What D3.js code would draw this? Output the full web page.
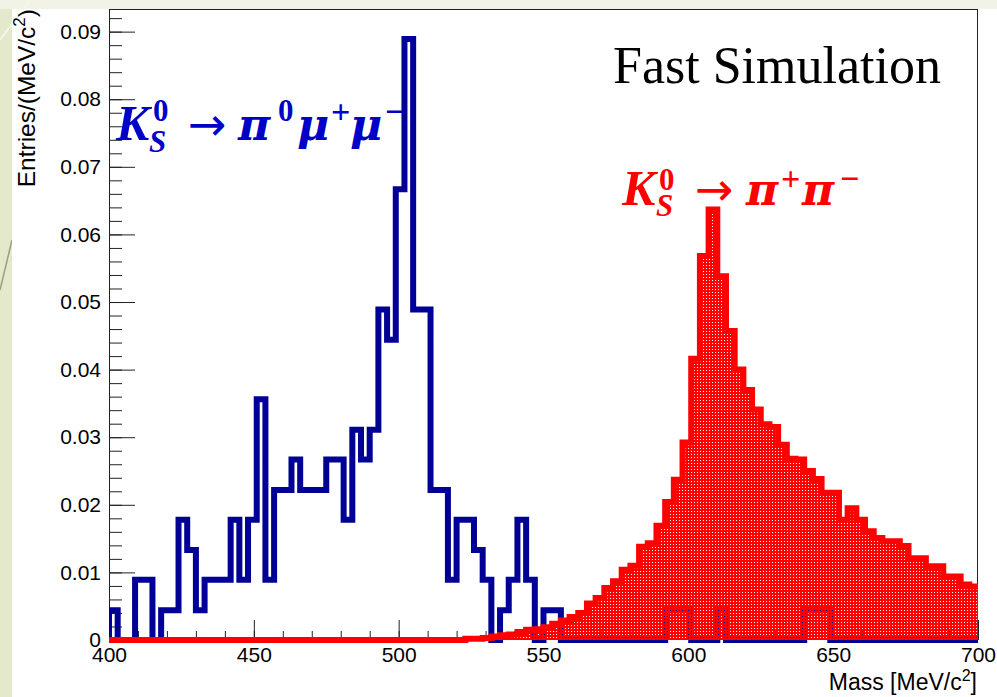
<!DOCTYPE html>
<html>
<head>
<meta charset="utf-8">
<script src="https://cdn.jsdelivr.net/npm/d3@7"></script>
<style>
  body { margin: 0; background: #e8edd3; }
  svg { display: block; }
</style>
</head>
<body>
<svg id="chart"></svg>
<script>
// Histogram contents, 3 MeV bins from 400 to 700 MeV/c^2
const binStart = 400;
const binWidth = 3;

// K0S -> pi0 mu+ mu-  (blue, outline only)
const blueValues = [
  0.0044, 0, 0, 0.0089, 0.0089, 0, 0.0044, 0.0044, 0.0178, 0.0133,
  0.0044, 0.0089, 0.0089, 0.0089, 0.0178, 0.0089, 0.0178, 0.0356, 0.0089, 0.0222,
  0.0222, 0.0267, 0.0222, 0.0222, 0.0222, 0.0267, 0.0267, 0.0178, 0.0311, 0.0267,
  0.0311, 0.0489, 0.0444, 0.0667, 0.0889, 0.0489, 0.0489, 0.0222, 0.0222, 0.0089,
  0.0178, 0.0178, 0.0133, 0.0089, 0, 0.0044, 0.0089, 0.0178, 0.0089, 0,
  0.0044, 0.0044, 0, 0, 0, 0, 0, 0, 0, 0,
  0, 0, 0, 0, 0.0044, 0.0044, 0.0044, 0, 0, 0,
  0.0044, 0, 0, 0, 0, 0, 0, 0, 0, 0,
  0.0044, 0.0044, 0.0044, 0, 0, 0, 0, 0, 0, 0,
  0, 0, 0, 0, 0, 0, 0, 0, 0, 0
];

// K0S -> pi+ pi-  (red, filled)
const redValues = [
  0, 0, 0, 0, 0, 0, 0, 0, 0, 0,
  0, 0, 0, 0, 0, 0, 0, 0, 0, 0,
  0, 0, 0, 0, 0, 0, 0, 0, 0, 0,
  0, 0, 0, 0, 0, 0, 0, 0, 0, 0,
  0, 0.0002, 0.0002, 0.0003, 0.0005, 0.0007, 0.0008, 0.0012, 0.0015, 0.0016,
  0.0019, 0.0024, 0.0029, 0.0034, 0.0040, 0.0054, 0.0062, 0.0077, 0.0087, 0.0104,
  0.0110, 0.0138, 0.0143, 0.0169, 0.0204, 0.0237, 0.0292, 0.0416, 0.0568, 0.0637,
  0.0538, 0.0457, 0.0400, 0.0370, 0.0341, 0.0319, 0.0315, 0.0289, 0.0268, 0.0267,
  0.0250, 0.0238, 0.0218, 0.0218, 0.0178, 0.0195, 0.0178, 0.0161, 0.0151, 0.0146,
  0.0146, 0.0139, 0.0121, 0.0121, 0.0109, 0.0109, 0.0094, 0.0094, 0.0082, 0.0079
];

const xMajorTicks = [400, 450, 500, 550, 600, 650, 700];
const yMajorTicks = [0, 0.01, 0.02, 0.03, 0.04, 0.05, 0.06, 0.07, 0.08, 0.09];
const yTickLabels = ["0", "0.01", "0.02", "0.03", "0.04", "0.05", "0.06", "0.07", "0.08", "0.09"];

const width = 997, height = 697;
const plot = { left: 109, right: 978, top: 10, bottom: 640 };

const svg = d3.select("#chart")
  .attr("width", width)
  .attr("height", height);

// page background + white slide image
svg.append("rect").attr("width", width).attr("height", height).attr("fill", "#e4e9cc");
svg.append("rect").attr("width", width).attr("height", 9).attr("fill", "#f2f3e6");
svg.append("line").attr("x1", 0).attr("y1", 40).attr("x2", 30).attr("y2", 0)
  .attr("stroke", "#f4f6ea").attr("stroke-width", 2);
svg.append("line").attr("x1", 0).attr("y1", 290).attr("x2", 12).attr("y2", 240)
  .attr("stroke", "#9a9f80").attr("stroke-width", 1.5);
svg.append("rect").attr("x", 12).attr("y", 9).attr("width", width - 12).attr("height", height - 9)
  .attr("fill", "#ffffff");

const x = d3.scaleLinear().domain([400, 700]).range([plot.left, plot.right]);
const y = d3.scaleLinear().domain([0, 0.0932]).range([plot.bottom, plot.top]);

const defs = svg.append("defs");
defs.append("clipPath").attr("id", "plotClip")
  .append("rect")
  .attr("x", plot.left).attr("y", plot.top)
  .attr("width", plot.right - plot.left).attr("height", plot.bottom - plot.top + 6);

// dotted red fill (ROOT-like pattern with small holes)
defs.append("pattern")
  .attr("id", "redDots")
  .attr("patternUnits", "userSpaceOnUse")
  .attr("width", 3).attr("height", 3)
  .append("path")
  .attr("d", "M0,0H3V3H0Z M1,1H2V2H1Z")
  .attr("fill", "#ff0000")
  .attr("fill-rule", "evenodd");

function stepPoints(values) {
  const pts = [[binStart, 0]];
  values.forEach((v, i) => {
    const x0 = binStart + i * binWidth;
    pts.push([x0, v], [x0 + binWidth, v]);
  });
  return pts;
}
const line = d3.line().x(d => x(d[0])).y(d => y(d[1]));

// axes (ticks inside the frame)
const tickFont = g => g.attr("font-family", "'Liberation Sans', Arial, sans-serif")
  .attr("font-size", 21);

const xMinor = svg.append("g")
  .attr("transform", `translate(0,${plot.bottom})`)
  .call(d3.axisBottom(x).tickValues(d3.range(400, 701, 10)).tickSize(-9).tickFormat(""));
const xMajor = svg.append("g")
  .attr("transform", `translate(0,${plot.bottom})`)
  .call(d3.axisBottom(x).tickValues(xMajorTicks).tickSize(-20).tickPadding(7).tickFormat(d3.format("d")))
  .call(tickFont);

const yMinor = svg.append("g")
  .attr("transform", `translate(${plot.left},0)`)
  .call(d3.axisLeft(y).tickValues(d3.range(0, 0.0925, 0.002)).tickSize(-13).tickFormat(""));
const yMajor = svg.append("g")
  .attr("transform", `translate(${plot.left},0)`)
  .call(d3.axisLeft(y).tickValues(yMajorTicks).tickSize(-26).tickPadding(8)
    .tickFormat((d, i) => yTickLabels[i]))
  .call(tickFont);

[xMinor, xMajor, yMinor, yMajor].forEach(g => {
  g.select(".domain").remove();
  g.selectAll(".tick line").attr("stroke", "#222").attr("stroke-width", 1);
  g.selectAll(".tick text").attr("fill", "#000");
});

// frame
svg.append("rect")
  .attr("x", plot.left + 0.5).attr("y", plot.top - 0.5)
  .attr("width", plot.right - plot.left - 1).attr("height", plot.bottom - plot.top)
  .attr("fill", "none").attr("stroke", "#222").attr("stroke-width", 1);

const hist = svg.append("g").attr("clip-path", "url(#plotClip)");

// blue histogram
const bluePts = stepPoints(blueValues).concat([[700, 0]]);
hist.append("path")
  .attr("d", line(bluePts))
  .attr("fill", "none")
  .attr("stroke", "#000096")
  .attr("stroke-width", 6)
  .attr("stroke-linejoin", "miter");

// red histogram: fill then outline
const redPts = stepPoints(redValues);
hist.append("path")
  .attr("d", line(redPts.concat([[700, 0]])) + "Z")
  .attr("fill", "url(#redDots)")
  .attr("stroke", "none");
hist.append("path")
  .attr("d", line(redPts))
  .attr("fill", "none")
  .attr("stroke", "#ff0000")
  .attr("stroke-width", 6)
  .attr("stroke-linejoin", "miter");

// axis titles
const yTitle = svg.append("text")
  .attr("transform", "translate(35,9) rotate(-90)")
  .attr("text-anchor", "end")
  .attr("font-family", "'Liberation Sans', Arial, sans-serif")
  .attr("font-size", 24.5)
  .attr("fill", "#000");
yTitle.append("tspan").text("Entries/(MeV/c");
yTitle.append("tspan").attr("dy", -10).attr("font-size", 17).text("2");
yTitle.append("tspan").attr("dy", 10).text(")");

const xTitle = svg.append("text")
  .attr("x", 977).attr("y", 690)
  .attr("text-anchor", "end")
  .attr("font-family", "'Liberation Sans', Arial, sans-serif")
  .attr("font-size", 23)
  .attr("fill", "#000");
xTitle.append("tspan").text("Mass [MeV/c");
xTitle.append("tspan").attr("dy", -9).attr("font-size", 16).text("2");
xTitle.append("tspan").attr("dy", 9).text("]");

svg.append("text")
  .attr("x", 613).attr("y", 83)
  .attr("font-family", "'Liberation Serif', 'Times New Roman', serif")
  .attr("font-size", 52)
  .attr("fill", "#000")
  .text("Fast Simulation");

// decay labels, glyph by glyph
const serif = "'Liberation Serif', 'Times New Roman', serif";
const greek = "'DejaVu Serif', serif";
const arrowFont = "'DejaVu Sans', sans-serif";

function mathLabel(parts, color) {
  const g = svg.append("g").attr("fill", color);
  parts.forEach(p => {
    g.append("text")
      .attr("x", p.x).attr("y", p.y)
      .attr("font-family", p.font || serif)
      .attr("font-size", p.size)
      .attr("font-style", p.italic ? "italic" : "normal")
      .attr("font-weight", p.bold === false ? "normal" : "bold")
      .text(p.t);
  });
}

mathLabel([
  { t: "K", x: 116, y: 140, size: 50, italic: true },
  { t: "0", x: 153, y: 121, size: 31 },
  { t: "S", x: 149, y: 152, size: 31, italic: true },
  { t: "\u2192", x: 188, y: 140, size: 46, bold: false, font: arrowFont },
  { t: "\u03c0", x: 238, y: 140, size: 44, italic: true, font: greek },
  { t: "0", x: 278, y: 121, size: 31 },
  { t: "\u03bc", x: 297, y: 140, size: 44, italic: true, font: greek },
  { t: "+", x: 331, y: 123, size: 34 },
  { t: "\u03bc", x: 350, y: 140, size: 44, italic: true, font: greek },
  { t: "\u2212", x: 385, y: 123, size: 34 }
], "#0000c8");

mathLabel([
  { t: "K", x: 622, y: 205, size: 50, italic: true },
  { t: "0", x: 659, y: 190, size: 31 },
  { t: "S", x: 656, y: 216, size: 31, italic: true },
  { t: "\u2192", x: 695, y: 205, size: 46, bold: false, font: arrowFont },
  { t: "\u03c0", x: 746, y: 205, size: 44, italic: true, font: greek },
  { t: "+", x: 781, y: 190, size: 34 },
  { t: "\u03c0", x: 802, y: 205, size: 44, italic: true, font: greek },
  { t: "\u2212", x: 840, y: 190, size: 34 }
], "#ff0000");
</script>
</body>
</html>
